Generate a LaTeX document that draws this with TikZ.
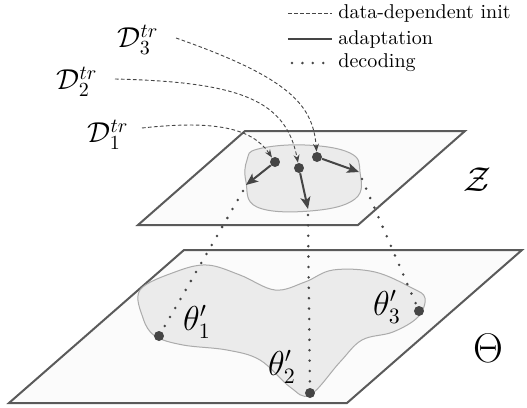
\documentclass[tikz,border=0pt]{standalone}
\usetikzlibrary{arrows.meta}
\definecolor{edgegray}{HTML}{5A5A5A}
\definecolor{dotgray}{HTML}{454545}
\definecolor{blobgray}{HTML}{EBEBEB}
\definecolor{blobline}{HTML}{ABABAB}
\definecolor{planefill}{HTML}{FBFBFB}
\begin{document}
\begin{tikzpicture}[x=0.5pt,y=-0.5pt,
  plane/.style={draw=edgegray,line width=1pt,fill=planefill,line join=miter},
  blob/.style={draw=blobline,line width=0.5pt,fill=blobgray},
  pt/.style={circle,fill=dotgray,inner sep=0pt,minimum size=5pt},
  initline/.style={draw=dotgray,line width=0.45pt,dash pattern=on 1.8pt off 1.2pt,-{Stealth[length=4pt,width=3pt]}},
  adapt/.style={draw=dotgray,line width=1pt,-{Stealth[length=6pt,width=5pt,inset=1.5pt]}},
  decode/.style={draw=dotgray,line width=1.4pt,dash pattern=on 0pt off 5.2pt,line cap=round},
  lbl/.style={inner sep=0pt,font=\Large},
  thlbl/.style={inner sep=0pt,font=\fontsize{16}{19}\selectfont},
  leg/.style={anchor=west,inner sep=0pt,font=\normalsize}
]
\useasboundingbox (0,0) rectangle (527,408);

% Theta plane
\draw[plane] (184,250) -- (522,250) -- (347,403) -- (9,403) -- cycle;
\draw[blob] plot[smooth cycle,tension=0.6] coordinates {
 (140,290) (175,272) (207,265) (240,275) (275,290) (305,282) (333,270) (375,272)
 (412,288) (425,298) (418,317) (393,332) (362,340) (340,362) (310,395) (290,387)
 (260,360) (227,350) (183,345) (155,336) (143,318)};

% Z plane
\draw[plane] (245,131) -- (465,131) -- (358,225) -- (138,225) -- cycle;
\draw[blob] plot[smooth cycle,tension=0.7] coordinates {
 (258,149) (305,145) (350,153) (360,172) (355,199) (310,211) (257,207) (246,182) (247,160)};

% points
\node[pt] (z1) at (275,162) {};
\node[pt] (z2) at (299,168) {};
\node[pt] (z3) at (317,157) {};
\coordinate (a1) at (246,185);
\coordinate (a2) at (308,209);
\coordinate (a3) at (359,172);
\node[pt] (t1) at (159,336) {};
\node[pt] (t2) at (310,393) {};
\node[pt] (t3) at (419,311) {};

% labels
\node[lbl] (d3) at (138,40) {$\mathcal{D}_3^{tr}$};
\node[lbl] (d2) at (77,82) {$\mathcal{D}_2^{tr}$};
\node[lbl] (d1) at (108,135) {$\mathcal{D}_1^{tr}$};
\node[inner sep=0pt,font=\fontsize{19}{22}\selectfont] (zl) at (477,180) {$\mathcal{Z}$};
\node[inner sep=0pt,font=\fontsize{20}{24}\selectfont] (thl) at (488,348) {$\Theta$};
\node[thlbl] (l1) at (197,322) {$\theta_1'$};
\node[thlbl] (l2) at (282,367) {$\theta_2'$};
\node[thlbl] (l3) at (387,307) {$\theta_3'$};

% data-dependent init
\draw[initline] (176,38) .. controls (290,78) and (313,105) .. (z3);
\draw[initline] (115,79) .. controls (240,82) and (286,100) .. (z2);
\draw[initline] (142,128) .. controls (215,120) and (252,128) .. (z1);

% adaptation
\draw[adapt] (z1) -- (a1);
\draw[adapt] (z2) -- (a2);
\draw[adapt] (z3) -- (a3);

% decoding
\draw[decode] ([shift={(-3,6)}]a1) -- (t1);
\draw[decode] ([shift={(0,6)}]a2) -- (t2);
\draw[decode] ([shift={(3,7)}]a3) -- (t3);

% legend
\coordinate (g1a) at (288,13); \coordinate (g1b) at (332,13);
\coordinate (g2a) at (288,39); \coordinate (g2b) at (332,39);
\coordinate (g3a) at (292,63); \coordinate (g3b) at (332,63);
\draw[draw=dotgray,line width=0.45pt,dash pattern=on 1.8pt off 1.2pt] (g1a) -- (g1b);
\draw[draw=dotgray,line width=1pt] (g2a) -- (g2b);
\draw[decode] (g3a) -- (g3b);
\node[leg] (tx1) at (338,13) {data-dependent init};
\node[leg] (tx2) at (338,39) {adaptation};
\node[leg] (tx3) at (338,63) {decoding};
\end{tikzpicture}
\end{document}
